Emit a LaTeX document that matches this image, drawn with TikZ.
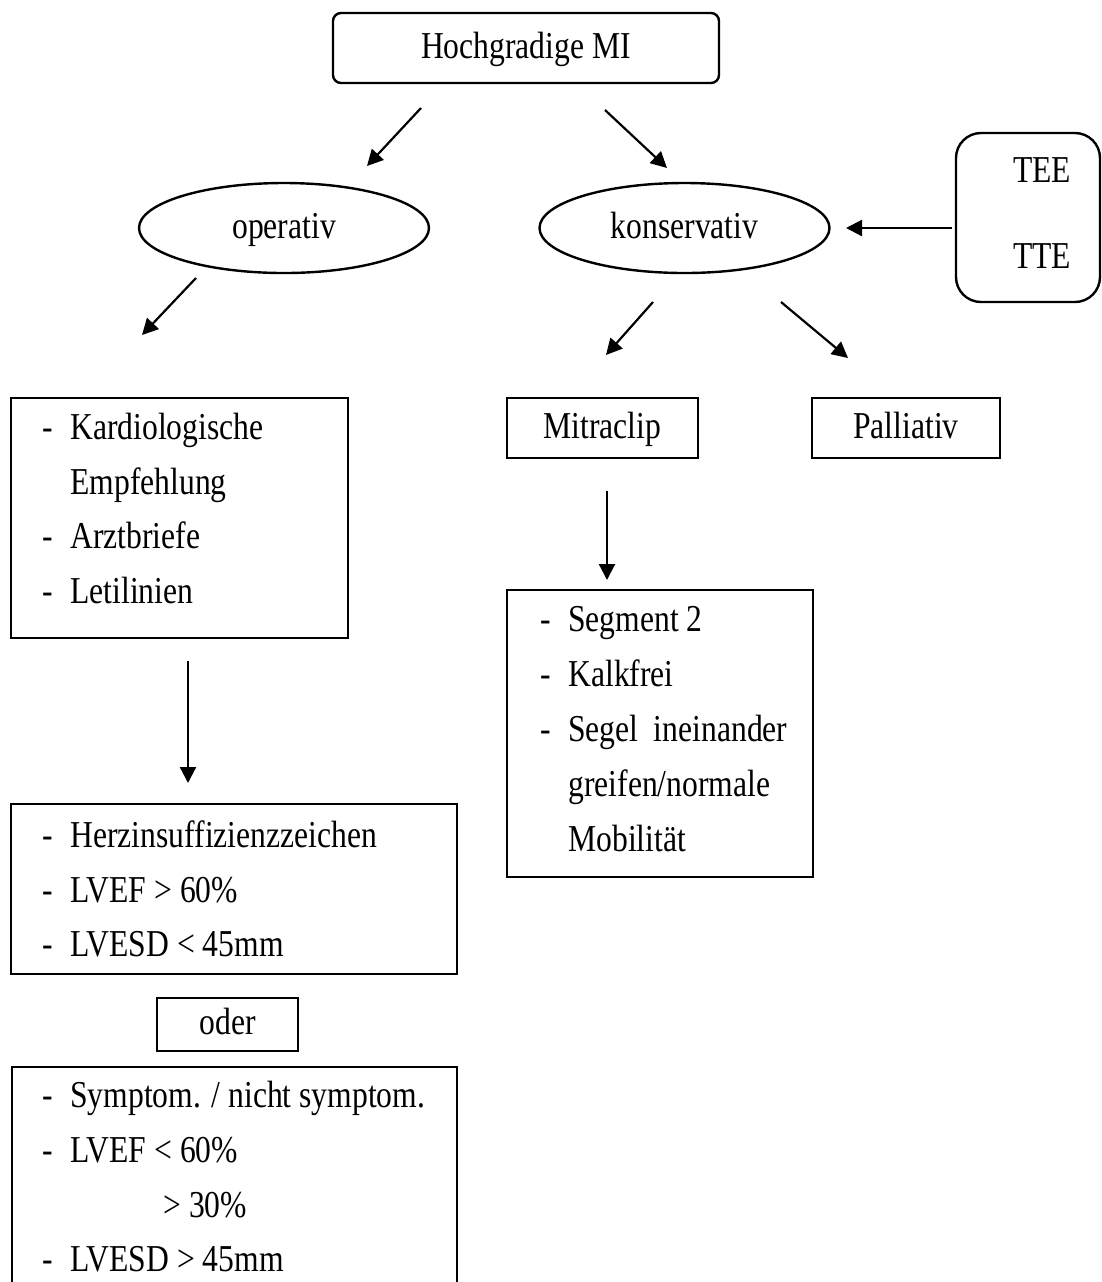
\documentclass[tikz,border=0pt]{standalone}
\usepackage{fontspec}
\setmainfont{Liberation Serif}[FakeStretch=0.832]
\usetikzlibrary{arrows.meta,shapes.geometric}
\begin{document}
\begin{tikzpicture}[x=0.5pt,y=-0.5pt,
  every node/.style={font=\fontsize{19pt}{27.3pt}\selectfont},
  box/.style={draw,line width=1.2pt,rectangle,inner sep=0pt,text height=12.6pt,text depth=2.6pt},
  rbox/.style={box,rounded corners=4pt},
  oval/.style={draw,line width=1.2pt,ellipse,inner sep=0pt,minimum width=145pt,minimum height=45pt,text height=12.6pt,text depth=2.6pt},
  arr/.style={line width=1.1pt,-{Triangle[length=8pt,width=8pt]}},
  txt/.style={anchor=base west,inner sep=0pt}]
\clip (0,0) rectangle (1102,1282);
\fill[white] (0,0) rectangle (1102,1282);

% main nodes
\node[rbox,minimum width=193pt,minimum height=35pt] (top) at (526,48) {Hochgradige MI};
\node[oval] (op) at (284,228) {operativ};
\node[oval] (kon) at (684.5,228) {konservativ};
\node[box,rounded corners=12.5pt,minimum width=72pt,minimum height=84.5pt] (echo) at (1028,217.5) {};
\node[inner sep=0pt,anchor=base] (tee) at (1042,182) {TEE};
\node[inner sep=0pt,anchor=base] (tte) at (1042,268) {TTE};
\node[box,minimum width=95.5pt,minimum height=30pt] (mitra) at (602.5,428) {Mitraclip};
\node[box,minimum width=94pt,minimum height=30pt] (pall) at (906,428) {Palliativ};

% Kardiologische box
\node[box,minimum width=168.5pt,minimum height=120pt] (kard) at (179.5,518) {};
\node[txt] (k1) at (42,439) {\makebox[14pt][l]{-}Kardiologische};
\node[txt] (k2) at (70,494) {Empfehlung};
\node[txt] (k3) at (42,548) {\makebox[14pt][l]{-}Arztbriefe};
\node[txt] (k4) at (42,603) {\makebox[14pt][l]{-}Letilinien};

% Herz box
\node[box,minimum width=223pt,minimum height=85pt] (herz) at (234,889) {};
\node[txt] (h1) at (42,847) {\makebox[14pt][l]{-}Herzinsuffizienzzeichen};
\node[txt] (h2) at (42,902) {\makebox[14pt][l]{-}LVEF > 60\%};
\node[txt] (h3) at (42,956) {\makebox[14pt][l]{-}LVESD < 45mm};

% oder
\node[box,minimum width=70.5pt,minimum height=26.5pt] (oder) at (227.5,1024.5) {oder};

% Symptom box (cut off at bottom)
\node[box,minimum width=222.5pt,minimum height=120pt] (sympt) at (234.5,1187) {};
\node[txt] (s1) at (42,1107) {\makebox[14pt][l]{-}Symptom. / nicht symptom.};
\node[txt] (s2) at (42,1162) {\makebox[14pt][l]{-}LVEF < 60\%};
\node[txt] (s3) at (163,1217) {> 30\%};
\node[txt] (s4) at (42,1271) {\makebox[14pt][l]{-}LVESD > 45mm};

% Segment box
\node[box,minimum width=153pt,minimum height=143.5pt] (seg) at (660,733.5) {};
\node[txt] (g1) at (540,631) {\makebox[14pt][l]{-}Segment 2};
\node[txt] (g2) at (540,686) {\makebox[14pt][l]{-}Kalkfrei};
\node[txt] (g3) at (540,741) {\makebox[14pt][l]{-}\hbox to 109.5pt{Segel\hfil ineinander}};
\node[txt] (g4) at (568,796) {greifen/normale};
\node[txt] (g5) at (568,851) {Mobilität};

% connector end points
\coordinate (a1s) at (421,108); \coordinate (a1e) at (367,166);
\coordinate (a2s) at (605,110); \coordinate (a2e) at (667,168);
\coordinate (a3s) at (196,278); \coordinate (a3e) at (142,335);
\coordinate (a4s) at (653,302); \coordinate (a4e) at (606,355);
\coordinate (a5s) at (781,302); \coordinate (a5e) at (848,358);
\coordinate (a6s) at (952,228); \coordinate (a6e) at (846,228);
\coordinate (a7s) at (607,491); \coordinate (a7e) at (607,580);
\coordinate (a8s) at (188,661); \coordinate (a8e) at (188,783);

\draw[arr] (a1s) -- (a1e);
\draw[arr] (a2s) -- (a2e);
\draw[arr] (a3s) -- (a3e);
\draw[arr] (a4s) -- (a4e);
\draw[arr] (a5s) -- (a5e);
\draw[arr] (a6s) -- (a6e);
\draw[arr] (a7s) -- (a7e);
\draw[arr] (a8s) -- (a8e);
\end{tikzpicture}
\end{document}
